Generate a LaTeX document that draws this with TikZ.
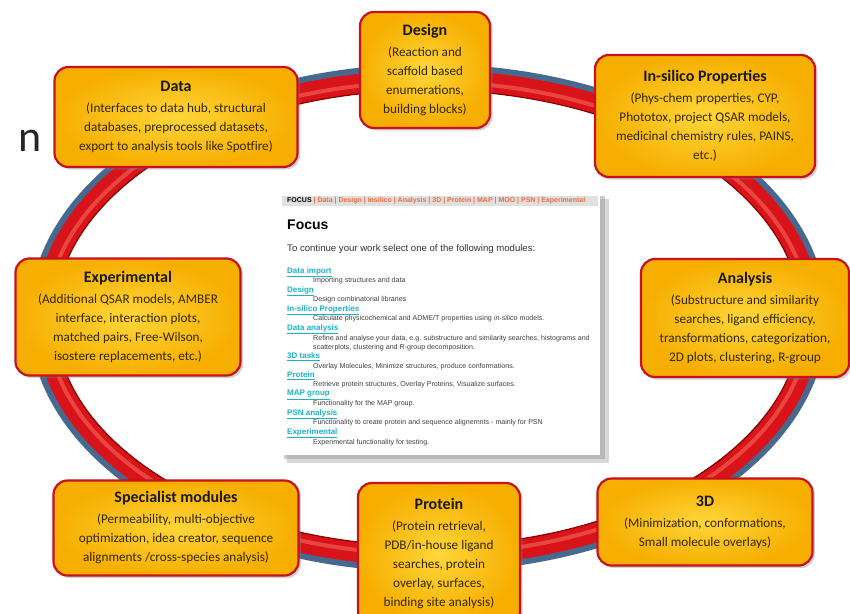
\documentclass[tikz,border=0pt]{standalone}
\usepackage{fontspec}
\setmainfont{Carlito}
\newfontfamily\arialf{Liberation Sans}
\usetikzlibrary{shadows}
\definecolor{boxin}{HTML}{FFD63A}
\definecolor{boxout}{HTML}{F6AE00}
\definecolor{boxedge}{HTML}{C8101E}
\definecolor{ringred}{HTML}{D8141A}
\definecolor{ringhi}{HTML}{F25A50}
\definecolor{ringblue}{HTML}{46698F}
\definecolor{txt}{HTML}{33270A}
\definecolor{linkc}{HTML}{1CB2C6}
\definecolor{navc}{HTML}{EE6A40}
\newcommand\boxtitle[1]{{\fontsize{16}{19}\selectfont\bfseries\color{black!90}#1}}
\tikzset{
  modbox/.style={draw=boxedge, line width=2.2pt, rounded corners=14pt,
    inner color=boxin, outer color=boxout,
    drop shadow={shadow xshift=2.5pt,shadow yshift=-2.5pt,opacity=.35},
    align=center, text=txt, font=\fontsize{13.2}{19}\selectfont, inner sep=0pt},
  navtxt/.style={anchor=west, inner sep=0pt, font=\arialf\fontsize{7}{8}\selectfont\bfseries},
  linktxt/.style={anchor=west, inner sep=0pt, text=linkc, font=\arialf\fontsize{8}{9}\selectfont\bfseries},
  desctxt/.style={anchor=west, inner sep=0pt, text=black!75, font=\arialf\fontsize{7.1}{8}\selectfont},
}
\begin{document}
\begin{tikzpicture}[x=1pt,y=-1pt]
\useasboundingbox (0,0) rectangle (850,613);
\fill[white] (0,0) rectangle (850,613);
% partial text at left edge
\node[anchor=base west, inner sep=0pt, font=\fontsize{44}{44}\selectfont, text=black!85] (nfrag) at (18,151) {n};
% ring
\coordinate (rc) at (428,318);
\draw[ringblue, line width=26pt] (rc) ellipse [x radius=386pt, y radius=241pt];
\draw[ringred, line width=20pt] (rc) ellipse [x radius=383pt, y radius=238pt];
\draw[ringhi, line width=4pt, opacity=.7] (rc) ellipse [x radius=381pt, y radius=236pt];
\draw[red!55!black, line width=1.2pt] (rc) ellipse [x radius=373pt, y radius=228pt];
% central screenshot panel
\fill[black!30, opacity=.5] (287,199) rectangle (609,463);
\fill[black!40, opacity=.5] (284,196) rectangle (605,459);
\fill[white] (280,192) rectangle (600,455);
\fill[black!12] (282,196) rectangle (598,206);
\node[navtxt] (nav) at (287,201) {FOCUS \textcolor{navc}{| Data | Design | Insilico | Analysis | 3D | Protein | MAP | MOO | PSN | Experimental}};
\node[anchor=west, inner sep=0pt, font=\arialf\fontsize{14}{16}\selectfont\bfseries] (focus) at (287,225) {Focus};
\node[anchor=west, inner sep=0pt, text=black!80, font=\arialf\fontsize{9.6}{11}\selectfont] (intro) at (287,249) {To continue your work select one of the following modules:};
\node[linktxt] (l1) at (287,272) {\underline{Data import}};
\node[desctxt] (d1) at (313,281) {Importing structures and data};
\node[linktxt] (l2) at (287,291) {\underline{Design}};
\node[desctxt] (d2) at (313,300) {Design combinatorial libraries};
\node[linktxt] (l3) at (287,310) {\underline{In-silico Properties}};
\node[desctxt] (d3) at (313,319) {Calculate physicochemical and ADME/T properties using \textit{in-silico} models.};
\node[linktxt] (l4) at (287,329) {\underline{Data analysis}};
\node[desctxt] (d4) at (313,339) {Refine and analyse your data, e.g. substructure and similarity searches, histograms and};
\node[desctxt] (d4b) at (313,348) {scatterplots, clustering and R-group decomposition.};
\node[linktxt] (l5) at (287,357) {\underline{3D tasks}};
\node[desctxt] (d5) at (313,367) {Overlay Molecules, Minimize structures, produce conformations.};
\node[linktxt] (l6) at (287,376) {\underline{Protein}};
\node[desctxt] (d6) at (313,385) {Retrieve protein structures, Overlay Proteins, Visualize surfaces.};
\node[linktxt] (l7) at (287,395) {\underline{MAP group}};
\node[desctxt] (d7) at (313,404) {Functionality for the MAP group.};
\node[linktxt] (l8) at (287,414) {\underline{PSN analysis}};
\node[desctxt] (d8) at (313,423) {Functionality to create protein and sequence alignemnts - mainly for PSN};
\node[linktxt] (l9) at (287,433) {\underline{Experimental}};
\node[desctxt] (d9) at (313,443) {Experimental functionality for testing.};
% module boxes
\node[modbox, minimum width=243pt, minimum height=100pt] (data) at (176,117)
  {\boxtitle{Data}\\[2pt](Interfaces to data hub, structural\\databases, preprocessed datasets,\\export to analysis tools like Spotfire)};
\node[modbox, minimum width=130pt, minimum height=116pt] (design) at (425,70)
  {\boxtitle{Design}\\[2pt](Reaction and\\scaffold based\\enumerations,\\building blocks)};
\node[modbox, minimum width=220pt, minimum height=122pt] (insilico) at (705,116)
  {\boxtitle{In-silico Properties}\\[2pt](Phys-chem properties, CYP,\\Phototox, project QSAR models,\\medicinal chemistry rules, PAINS,\\etc.)};
\node[modbox, minimum width=225pt, minimum height=117pt] (experimental) at (128,317)
  {\boxtitle{Experimental}\\[2pt](Additional QSAR models, AMBER\\interface, interaction plots,\\matched pairs, Free-Wilson,\\isostere replacements, etc.)};
\node[modbox, minimum width=208pt, minimum height=118pt] (analysis) at (745,318)
  {\boxtitle{Analysis}\\[2pt](Substructure and similarity\\searches, ligand efficiency,\\transformations, categorization,\\2D plots, clustering, R-group};
\node[modbox, minimum width=245pt, minimum height=95pt] (specialist) at (176,528)
  {\boxtitle{Specialist modules}\\[2pt](Permeability, multi-objective\\optimization, idea creator, sequence\\alignments /cross-species analysis)};
\node[modbox, minimum width=162pt, minimum height=142pt] (protein) at (439,554)
  {\boxtitle{Protein}\\[2pt](Protein retrieval,\\PDB/in-house ligand\\searches, protein\\overlay, surfaces,\\binding site analysis)};
\node[modbox, minimum width=215pt, minimum height=87pt] (threed) at (705,522)
  {\boxtitle{3D}\\[2pt](Minimization, conformations,\\Small molecule overlays)};
\end{tikzpicture}
\end{document}
